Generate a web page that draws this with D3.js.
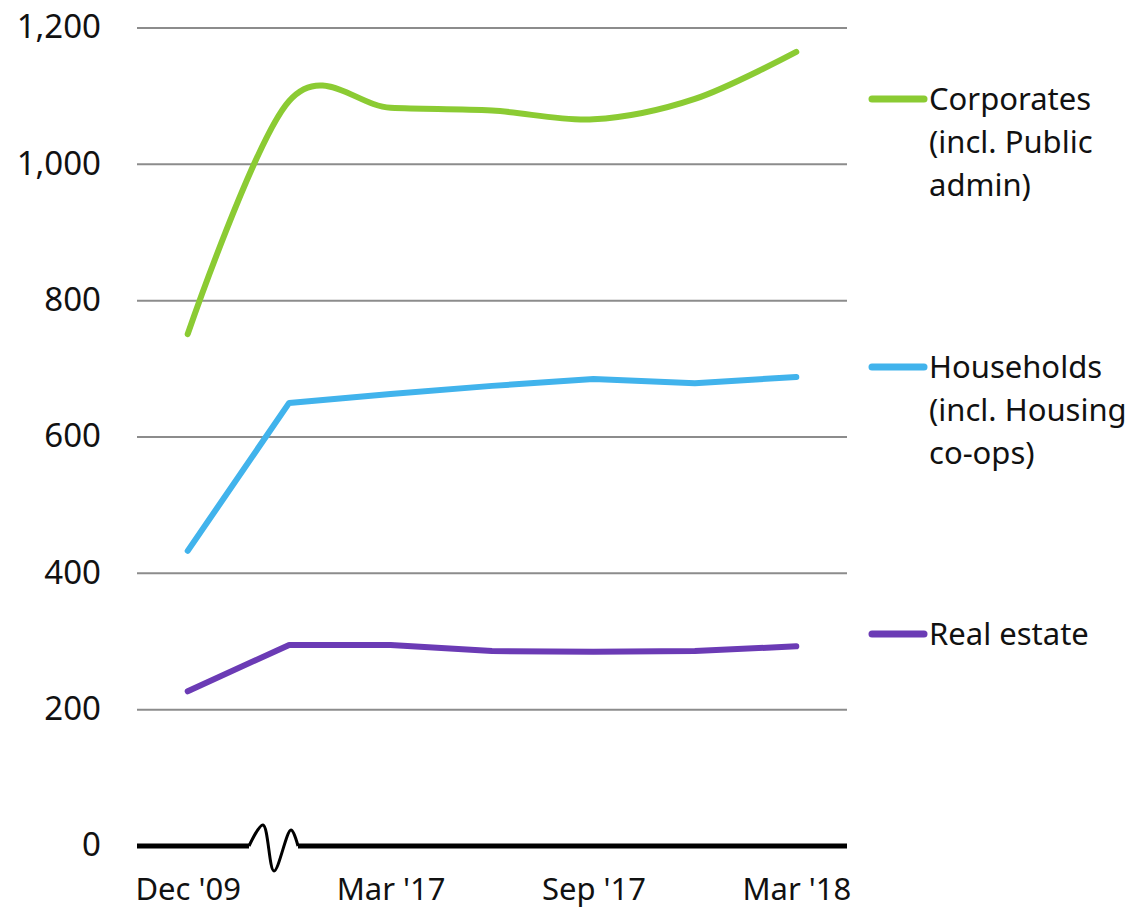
<!DOCTYPE html>
<html lang="en">
  <head>
    <meta charset="utf-8">
    <title>Lending by sector</title>
    <style>
      body { margin: 0; background: #fff; }
      text { font-family: "Noto Sans", Roboto, sans-serif; fill: #111; }
    </style>
  </head>
  <body>
    <svg class="chart"></svg>
    <script src="https://cdn.jsdelivr.net/npm/d3@7"></script>
    <script>
      const categories = ["Dec '09", "Dec '16", "Mar '17", "Jun '17", "Sep '17", "Dec '17", "Mar '18"];
      const shownLabels = ["Dec '09", "Mar '17", "Sep '17", "Mar '18"];
      const yTicks = [0, 200, 400, 600, 800, 1000, 1200];

      const corporates = [751, 1093, 1083, 1079, 1066, 1096, 1165];
      const households = [433, 650, 663, 675, 685, 679, 688];
      const realEstate = [227, 295, 295, 286, 285, 286, 293];

      const seriesNames = [["Corporates", "(incl. Public", "admin)"], ["Households", "(incl. Housing", "co-ops)"], ["Real estate"]];
      const seriesColors = ["#8bcb33", "#41b3ec", "#6b3bb5"];

      const svg = d3.select(".chart").attr("width", 1132).attr("height", 910);

      const x = d3.scalePoint().domain(categories).range([137, 847]).padding(0.5);
      const y = d3.scaleLinear().domain([0, 1200]).range([846, 28]);

      // gridlines
      svg.append("g").selectAll("line").data(yTicks.filter(d => d > 0)).enter()
        .append("line")
        .attr("x1", 137).attr("x2", 847)
        .attr("y1", d => y(d)).attr("y2", d => y(d))
        .attr("stroke", "#8c8c8c").attr("stroke-width", 2);

      // y labels
      const yAxis = d3.axisLeft(y).tickValues(yTicks).tickSize(0).tickPadding(0).tickFormat(d3.format(","));
      const gy = svg.append("g").attr("transform", "translate(101,0)").call(yAxis);
      gy.select(".domain").remove();
      gy.selectAll("text").style("font-size", "33px").attr("fill", "#111").attr("dy", "0.3em")
        .style("font-family", "'Noto Sans', Roboto, sans-serif");

      // x labels
      const xAxis = d3.axisBottom(x).tickValues(shownLabels).tickSize(0).tickPadding(0);
      const gx = svg.append("g").attr("transform", "translate(0,878)").call(xAxis);
      gx.select(".domain").remove();
      gx.selectAll("text").style("font-size", "31px").attr("fill", "#111")
        .style("font-family", "'Noto Sans', Roboto, sans-serif");

      // zero line with axis break
      const bx = 249;
      svg.append("line").attr("x1", 137).attr("x2", bx).attr("y1", y(0)).attr("y2", y(0))
        .attr("stroke", "#000").attr("stroke-width", 5);
      svg.append("line").attr("x1", 298).attr("x2", 847).attr("y1", y(0)).attr("y2", y(0))
        .attr("stroke", "#000").attr("stroke-width", 5);
      svg.append("path")
        .attr("d", d3.line().curve(d3.curveCatmullRom)([[bx, y(0)], [263, y(0) - 21], [274, y(0) + 25], [291, y(0) - 16], [298, y(0)]]))
        .attr("fill", "none").attr("stroke", "#000").attr("stroke-width", 3);

      const lineSmooth = d3.line().x((d, i) => x(categories[i])).y(d => y(d)).curve(d3.curveCardinal.tension(0));
      const lineStraight = d3.line().x((d, i) => x(categories[i])).y(d => y(d));

      const allSeries = [corporates, households, realEstate];
      allSeries.forEach((s, k) => {
        svg.append("path")
          .attr("d", k === 0 ? lineSmooth(s) : lineStraight(s))
          .attr("fill", "none")
          .attr("stroke", seriesColors[k])
          .attr("stroke-width", 6)
          .attr("stroke-linecap", "round")
          .attr("stroke-linejoin", "round");
      });

      // legend
      const legendY = [99, 367, 634];
      const legend = svg.append("g");
      seriesNames.forEach((lines, k) => {
        legend.append("line")
          .attr("x1", 872).attr("x2", 924)
          .attr("y1", legendY[k]).attr("y2", legendY[k])
          .attr("stroke", seriesColors[k]).attr("stroke-width", 7)
          .attr("stroke-linecap", "round");
        const t = legend.append("text").attr("x", 929).attr("y", legendY[k] + 11)
          .style("font-size", "31px");
        lines.forEach((ln, j) => {
          t.append("tspan").attr("x", 929).attr("dy", j === 0 ? 0 : 43).text(ln);
        });
      });
    </script>
  </body>
</html>
